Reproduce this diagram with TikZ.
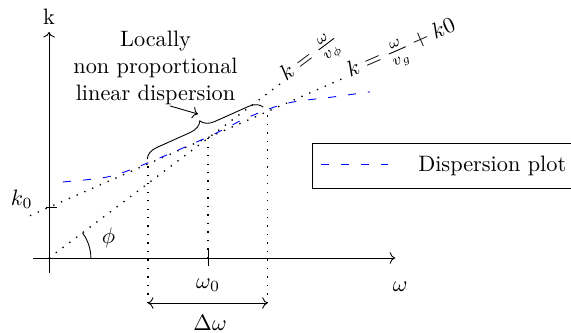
\documentclass[tikz,border=0pt]{standalone}
\usepackage{amsmath}
\usepackage{tikz}
\usetikzlibrary{arrows.meta, positioning, calc, decorations.pathreplacing}
\definecolor{cDisp}{RGB}{0,0,255}
\tikzset{
	axisline/.style ={->},
	guide/.style    ={line width=0.6pt, dash pattern=on 0.6pt off 3.2pt},
	disp/.style     ={cDisp, dash pattern=on 3.6pt off 5.4pt},
	relation/.style ={pos=1, sloped, anchor=west, inner sep=1pt},
	bracelong/.style={decorate, decoration={brace, amplitude=6pt}},
}

\begin{document}
\begin{tikzpicture}
	\useasboundingbox (-0.773,-1.183) rectangle (8.233,4.069);
	% axes
	\coordinate (xs) at (-0.25,0);
	\coordinate (xe) at (5.46,0);
	\coordinate (ys) at (0,-0.24);
	\coordinate (ye) at (0,3.565);
	\draw[axisline] (xs) -- (xe);
	\draw[axisline] (ys) -- (ye);
	\node[above] (klbl) at (ye) {k};
	\node (wlbl) at (5.54,-0.46) {$\omega$};
	% ticks
	\draw (-0.04,0.80) -- (0.13,0.80);
	\node (kzero) at (-0.43,0.93) {$k_0$};
	\draw (2.51,-0.13) -- (2.51,0.125);
	\node (wzero) at (2.51,-0.43) {$\omega_0$};
	% phase and group lines
	\coordinate (o) at (0,0);
	\coordinate (pe) at (3.69,2.78);
	\coordinate (gs) at (-0.30,0.668);
	\coordinate (ge) at (4.70,2.86);
	\draw[guide] (o) -- (pe) node[relation] (vph) {$k=\frac{\omega}{v_\phi}$};
	\draw[guide] (gs) -- (ge) node[relation] (vgr) {$k=\frac{\omega}{v_g}+k0$};
	\draw (0.66,0) arc[start angle=0, end angle=37, radius=0.66];
	\node (phi) at (0.94,0.32) {$\phi$};
	% dispersion curve
	\draw[disp] plot[smooth] coordinates {(0.22,1.20) (0.93,1.28) (1.51,1.48) (2.51,1.91) (3.12,2.21) (3.75,2.44) (4.48,2.54) (5.06,2.62)};
	% band around omega_0
	\coordinate (dl) at (1.56,-0.71);
	\coordinate (dr) at (3.45,-0.71);
	\coordinate (dlt) at (1.56,1.52);
	\coordinate (drt) at (3.45,2.35);
	\coordinate (wb) at (2.51,0);
	\coordinate (wt) at (2.51,1.90);
	\draw[guide] (dl) -- (dlt);
	\draw[guide] (dr) -- (drt);
	\draw[guide] (wb) -- (wt);
	\draw[<->] (dl) -- (dr);
	\node (dw) at (2.54,-1.03) {$\Delta\omega$};
	% brace and note
	\coordinate (bl) at (1.55,1.56);
	\coordinate (br) at (3.38,2.38);
	\draw[bracelong] (bl) -- (br);
	\coordinate (tip) at (2.35,2.27);
	\node[align=center] (note) at (1.68,3.0) {Locally\\non proportional\\linear dispersion};
	\draw[->] ([xshift=0.23cm, yshift=0.1cm]note.south) -- (tip);
	% legend
	\draw (4.16,1.09) rectangle (8.35,1.80);
	\coordinate (ls) at (4.29,1.47);
	\coordinate (le) at (5.35,1.47);
	\draw[disp] (ls) -- (le);
	\node[anchor=west] (legtxt) at (5.70,1.445) {Dispersion plot};
\end{tikzpicture}
\end{document}
